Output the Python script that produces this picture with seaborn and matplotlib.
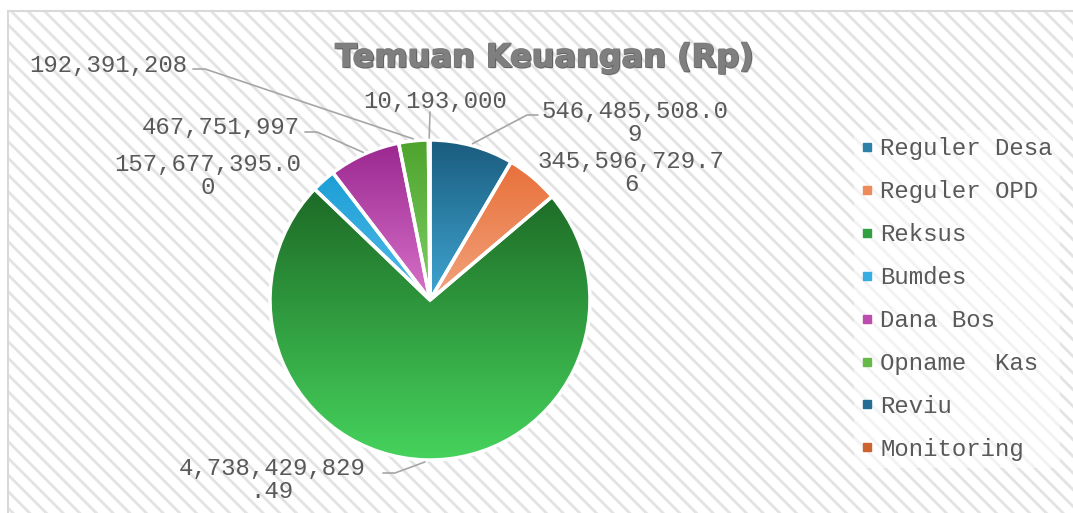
import matplotlib
matplotlib.use('Agg')
import matplotlib.pyplot as plt
import matplotlib.patheffects as pe
from matplotlib.patches import Rectangle
from matplotlib.lines import Line2D
import numpy as np
import seaborn as sns

# data
categories = ['Reguler Desa', 'Reguler OPD', 'Reksus', 'Bumdes', 'Dana Bos',
              'Opname  Kas', 'Reviu', 'Monitoring']
values = [546485508.09, 345596729.76, 4738429829.49, 157677395.00,
          467751997, 192391208, 10193000, 0]
value_labels = ['546,485,508.0\n9', '345,596,729.7\n6', '4,738,429,829\n.49',
                '157,677,395.0\n0', '467,751,997', '192,391,208', '10,193,000', None]
top_colors = ['#1a5c7e', '#e8703a', '#1d6a26', '#1a9ed5', '#9b2890', '#4ea32d', '#1a5c7e', '#c05526']
bottom_colors = ['#40a6d3', '#f2a37d', '#46d35c', '#55bce9', '#d872ca', '#7fd066', '#2d7fa8', '#d8733e']

# layout (pixels from top-left)
W, H = 1073, 513
CX, CY, R = 430, 300, 160
label_xy = [(635, 123), (631, 173), (272, 480), (208, 176), (221, 127), (108, 65), (435, 102), None]
leaders = [[(538, 115), (527, 115)], None, [(383, 473), (395, 473)], None,
           [(305, 132), (317, 132)], [(193, 69), (205, 69)], [(430, 112)], None]

sns.set_theme(style='white')
mono = ['Liberation Mono', 'DejaVu Sans Mono']
plt.rcParams['font.family'] = ['DejaVu Sans']
plt.rcParams['hatch.linewidth'] = 2.0
plt.rcParams['hatch.color'] = '#e3e3e3'
txt_color = '#595959'

fig = plt.figure(figsize=(W / 100, H / 100), dpi=100)
fig.patch.set_facecolor('white')
ax = fig.add_axes([0, 0, 1, 1])

# hatched chart area + border (right/bottom edges fall outside the picture)
ax.add_patch(Rectangle((8, -40), W + 60, H - 11 + 40, facecolor='white',
                       edgecolor='#e3e3e3', hatch='\\\\', linewidth=0, zorder=0))
ax.add_patch(Rectangle((8, -40), W + 60, H - 11 + 40, facecolor='none',
                       edgecolor='#d9d9d9', linewidth=1.5, zorder=0.5))

wedges, _ = ax.pie(values, startangle=90, counterclock=False, center=(CX, H - CY),
                   radius=R, frame=True,
                   wedgeprops=dict(edgecolor='white', linewidth=2.5))

grad = np.linspace(0, 1, 256).reshape(-1, 1)
for w, v, c0, c1 in zip(wedges, values, top_colors, bottom_colors):
    w.set_zorder(2)
    if v <= 0:
        w.set_visible(False)
        continue
    cmap = sns.blend_palette([c0, c1], n_colors=256, as_cmap=True)
    ext = w.get_path().get_extents()
    im = ax.imshow(grad, extent=(ext.x0, ext.x1, ext.y0, ext.y1), origin='upper',
                   cmap=cmap, aspect='auto', interpolation='bilinear', zorder=1.5)
    im.set_clip_path(w)
    w.set_facecolor('none')

# data labels with leader lines
for w, s, xy, pts in zip(wedges, value_labels, label_xy, leaders):
    if s is None:
        continue
    ax.text(xy[0], H - xy[1], s, ha='center', va='center', fontsize=17.3,
            family=mono, color=txt_color, linespacing=1.0, zorder=4)
    if pts:
        mid = np.deg2rad((w.theta1 + w.theta2) / 2)
        anchor = (CX + (R + 2) * np.cos(mid), (H - CY) + (R + 2) * np.sin(mid))
        xs = [p[0] for p in pts] + [anchor[0]]
        ys = [H - p[1] for p in pts] + [anchor[1]]
        ax.plot(xs, ys, color='#a6a6a6', lw=1.2, zorder=3)

# title
ax.text(545, H - 67, 'Temuan Keuangan (Rp)', ha='center', va='baseline',
        fontsize=23, fontweight='bold', family=['DejaVu Sans'],
        color='#7f7f7f', zorder=4,
        path_effects=[pe.Stroke(linewidth=1.5, foreground='#7a7a7a'),
                      pe.withSimplePatchShadow(offset=(1.0, -1.0), shadow_rgbFace='#000000', alpha=0.2),
                      pe.Normal()])

# legend
mids = [sns.blend_palette([a, b], n_colors=3)[1] for a, b in zip(top_colors, bottom_colors)]
handles = [Line2D([], [], marker='s', ls='none', markersize=5.5,
                  markerfacecolor=m, markeredgecolor=m) for m in mids]
leg = fig.legend(handles, categories, loc='upper left', bbox_to_anchor=(854 / W, 1 - 130 / H),
                 borderaxespad=0, frameon=True, prop={'family': mono, 'size': 17.3},
                 labelcolor=txt_color, handlelength=0.5, handletextpad=0.3,
                 labelspacing=0.83, borderpad=0.3, fancybox=False)
leg.get_frame().set_facecolor('white')
leg.get_frame().set_alpha(0.55)
leg.get_frame().set_edgecolor('none')

ax.set_xlim(0, W)
ax.set_ylim(0, H)
ax.set_aspect('auto')
ax.axis('off')

fig.savefig('out.png', dpi=100)
